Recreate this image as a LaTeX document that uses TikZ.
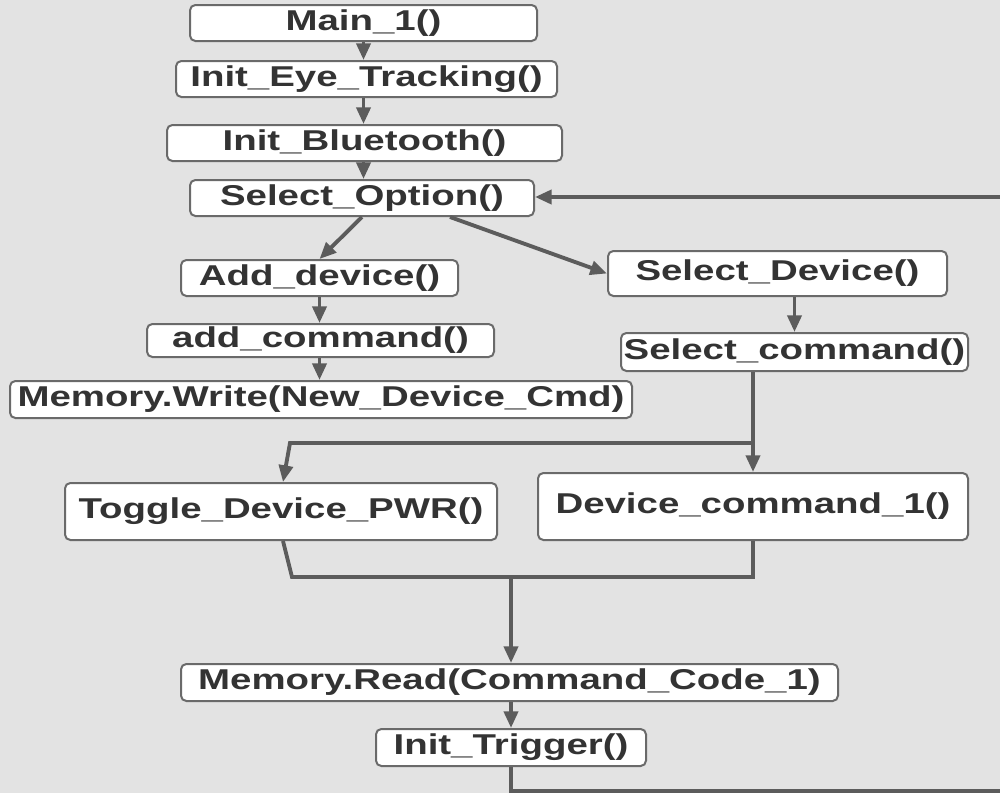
\documentclass[tikz,border=0pt]{standalone}
\usepackage{fontspec}
\setmainfont{Liberation Sans}[FakeStretch=1.34]
\usetikzlibrary{arrows.meta}
\definecolor{bg}{HTML}{E3E3E3}
\definecolor{bordercol}{HTML}{6A6A6A}
\definecolor{linecol}{HTML}{5C5C5C}
\definecolor{txt}{HTML}{333333}
\tikzset{
  box/.style={draw=bordercol, line width=1.5pt, fill=white, rounded corners=4pt,
    inner sep=0pt, text=txt, font=\fontsize{21.5}{25}\selectfont\bfseries},
  conn/.style={draw=linecol, line width=2.9pt},
  arr/.style={conn, -{Triangle[length=12.5pt,width=10.5pt]}}
}
\begin{document}
\begin{tikzpicture}[x=0.75pt,y=-0.75pt]
\fill[bg] (0,0) rectangle (1000,793);
\useasboundingbox (0,0) rectangle (1000,793);

\node[box, minimum width=260.25pt, minimum height=27pt] (main) at (363.5,23) {Main\_1()};
\node[box, minimum width=285.75pt, minimum height=27pt] (eye) at (366.5,79) {Init\_Eye\_Tracking()};
\node[box, minimum width=296.25pt, minimum height=27pt] (bt) at (364.5,143) {Init\_Bluetooth()};
\node[box, minimum width=258pt, minimum height=27pt] (selopt) at (362,198) {Select\_Option()};
\node[box, minimum width=207.75pt, minimum height=27pt] (add) at (319.5,278) {Add\_device()};
\node[box, minimum width=260.25pt, minimum height=24.75pt] (addcmd) at (320.5,340.5) {add\_command()};
\node[box, minimum width=466.5pt, minimum height=27.75pt] (memw) at (321,399.5) {Memory.Write(New\_Device\_Cmd)};
\node[box, minimum width=254.25pt, minimum height=33.75pt] (seldev) at (777.5,273.5) {Select\_Device()};
\node[box, minimum width=260.25pt, minimum height=28.5pt] (selcmd) at (794.5,352) {Select\_command()};
\node[box, minimum width=324pt, minimum height=42.75pt] (toggle) at (281,511.5) {Toggle\_Device\_PWR()};
\node[box, minimum width=322.5pt, minimum height=50.25pt] (devcmd) at (753,506.5) {Device\_command\_1()};
\node[box, minimum width=492.75pt, minimum height=27.75pt] (memr) at (509.5,682.5) {Memory.Read(Command\_Code\_1)};
\node[box, minimum width=202.5pt, minimum height=27.75pt] (trig) at (511,747.5) {Init\_Trigger()};

\coordinate (br) at (753,443);
\coordinate (tl) at (290,443);
\coordinate (m1) at (292,577);
\coordinate (m2) at (753,577);
\coordinate (mm) at (511,577);
\coordinate (c1) at (511,791);
\coordinate (c2) at (1000,791);
\coordinate (c3) at (1000,197);

\draw[arr] (main.south) -- (main.south |- eye.north);
\draw[arr] (eye.south -| main.south) -- (main.south |- bt.north);
\draw[arr] (bt.south -| main.south) -- (main.south |- selopt.north);
\draw[arr] (selopt.south) -- (add.north);
\draw[arr] ([xshift=66pt]selopt.south) -- (seldev.west);
\draw[arr] (add.south) -- (add.south |- addcmd.north);
\draw[arr] (addcmd.south -| add.south) -- (add.south |- memw.north);
\draw[arr] (selcmd.north |- seldev.south) -- (selcmd.north);
\draw[arr] (devcmd.north |- selcmd.south) -- (devcmd.north);
\draw[arr] (br) -- (tl) -- ([xshift=1.5pt]toggle.north);
\draw[conn] ([xshift=1.5pt]toggle.south) -- (m1) -- (m2) -- (devcmd.south);
\draw[arr] (mm) -- (mm |- memr.north);
\draw[arr] (memr.south -| mm) -- (mm |- trig.north);
\draw[conn] (trig.south -| mm) -- (c1) -- (c2);
\draw[arr] (c3) -- (selopt.east |- c3);
\end{tikzpicture}
\end{document}
